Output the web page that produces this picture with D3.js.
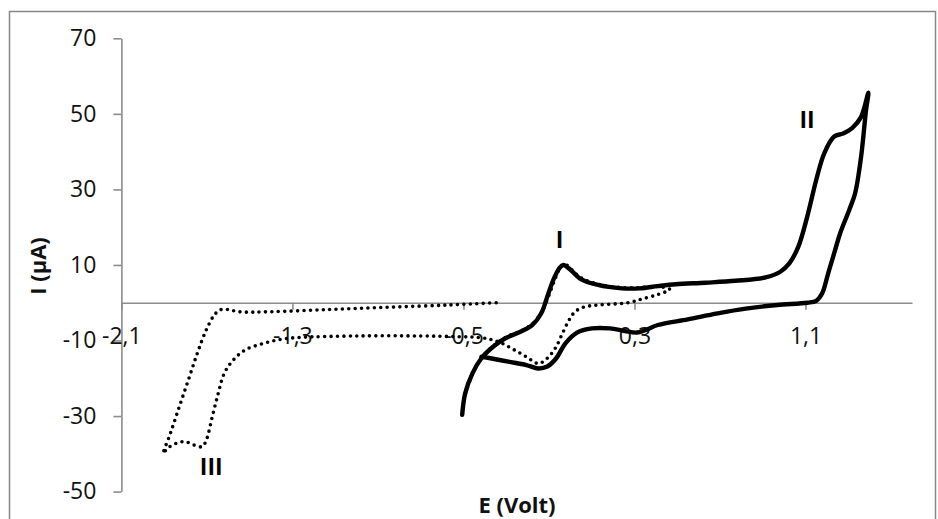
<!DOCTYPE html>
<html>
<head>
<meta charset="utf-8">
<script src="https://cdn.jsdelivr.net/npm/d3@7"></script>
<style>
  html, body { margin: 0; padding: 0; background: #fff; }
  svg { display: block; }
  text { font-family: "Open Sans", "Liberation Sans", sans-serif; }
</style>
</head>
<body>
<svg id="chart" width="938" height="519"></svg>
<script>
// ---- Data (E in V, I in µA) ----
const xTickValues = [-2.1, -1.3, -0.5, 0.3, 1.1];
const xTickLabels = ["-2,1", "-1,3", "-0,5", "0,3", "1,1"];
const yTickValues = [-50, -30, -10, 10, 30, 50, 70];
const yTickLabels = ["-50", "-30", "-10", "10", "30", "50", "70"];

// Solid CV (anodic scan, -0.5 V -> 1.39 V -> back)
const solidE = [-0.506, -0.492, -0.458, -0.416, -0.36, -0.304, -0.234, -0.178, -0.136, -0.108, -0.08, -0.052, -0.033, 0.003, 0.045, 0.129, 0.241, 0.325, 0.409, 0.493, 0.633, 0.773, 0.913, 0.982, 1.024, 1.066, 1.108, 1.15, 1.187, 1.234, 1.276, 1.318, 1.36, 1.394,
                1.383, 1.36, 1.332, 1.304, 1.262, 1.234, 1.206, 1.178, 1.15, 1.108, 0.968, 0.829, 0.689, 0.549, 0.409, 0.353, 0.311, 0.255, 0.185, 0.101, 0.031, -0.024, -0.066, -0.108, -0.15, -0.206, -0.29, -0.374, -0.416];
const solidI = [-29.7, -24.0, -18.7, -14.7, -11.6, -9.4, -7.7, -5.9, -2.8, 1.6, 6.0, 9.1, 10.0, 8.6, 6.4, 4.7, 3.8, 3.8, 4.4, 4.9, 5.3, 5.8, 6.7, 8.2, 10.4, 14.8, 22.8, 32.5, 39.5, 44.0, 44.8, 46.2, 49.2, 55.6,
                51.0, 38.7, 29.0, 24.5, 18.4, 13.1, 7.8, 2.5, 0.5, 0.0, -0.6, -1.5, -2.8, -4.4, -5.9, -7.2, -7.9, -7.5, -6.8, -6.8, -7.9, -10.8, -14.7, -16.9, -17.4, -16.5, -15.6, -14.7, -14.3];

// Dotted CV (scan to -1.9 V)
const dottedE = [-0.49, -0.455, -0.41, -0.35, -0.29, -0.22, -0.17, -0.13, -0.1, -0.07, -0.045, -0.025, 0.005, 0.05, 0.13, 0.24, 0.33, 0.41, 0.465,
                 0.41, 0.33, 0.27, 0.13, 0.06, 0.02, -0.01, -0.04, -0.07, -0.11, -0.15, -0.206, -0.262, -0.318, -0.374, -0.43, -0.514, -0.71, -0.99, -1.27, -1.353, -1.437, -1.521, -1.577, -1.619, -1.647, -1.675, -1.703, -1.722, -1.759, -1.801, -1.843, -1.885, -1.904,
                 -1.871, -1.829, -1.787, -1.745, -1.703, -1.666, -1.638, -1.605, -1.549, -1.409, -1.129, -0.85, -0.57, -0.346];
const dottedI = [-24.0, -18.5, -14.2, -11.0, -8.8, -7.2, -5.2, -2.0, 2.0, 6.5, 9.5, 10.2, 8.8, 6.6, 4.9, 4.0, 4.0, 4.3, 3.5,
                 2.2, 0.9, 0.0, -0.6, -1.2, -2.5, -5.0, -8.5, -12.0, -14.8, -16.1, -14.3, -12.5, -10.8, -9.7, -9.2, -9.0, -8.8, -8.8, -9.2, -9.7, -10.8, -12.5, -15.2, -18.7, -24.0, -30.2, -36.4, -38.1, -37.7, -36.8, -37.2, -38.6, -39.9,
                 -34.6, -27.5, -20.5, -13.4, -7.2, -3.3, -1.9, -1.8, -2.4, -2.4, -1.8, -1.2, -0.6, 0.0];

const peakLabels = ["I", "II", "III"];
const peakLabelE = [-0.05, 1.107, -1.68];
const peakLabelI = [14.5, 46.3, -45.6];

// ---- Layout ----
const svg = d3.select("#chart");
const x = d3.scaleLinear().domain([-2.1, 1.598]).range([121.4, 912]);
const y = d3.scaleLinear().domain([-50, 70]).range([491.6, 38.3]);

// chart border
svg.append("rect")
  .attr("x", 9.5).attr("y", 11.5).attr("width", 926).attr("height", 530)
  .attr("fill", "#fff").attr("stroke", "#878787").attr("stroke-width", 1.5);

// Y axis
const yAxis = svg.append("g")
  .attr("transform", `translate(${x(-2.1)},0)`)
  .call(d3.axisLeft(y).tickValues(yTickValues).tickSize(8).tickSizeOuter(0).tickPadding(17)
        .tickFormat((d, i) => yTickLabels[i]));
// X axis at I = 0
const xAxis = svg.append("g")
  .attr("transform", `translate(0,${y(0)})`)
  .call(d3.axisBottom(x).tickValues(xTickValues).tickSize(7).tickSizeOuter(0).tickPadding(18)
        .tickFormat((d, i) => xTickLabels[i]));

[yAxis, xAxis].forEach(g => {
  g.select(".domain").attr("stroke", "#8c8c8c").attr("stroke-width", 1.6);
  g.selectAll(".tick line").attr("stroke", "#8c8c8c").attr("stroke-width", 1.6);
  g.selectAll(".tick text").attr("fill", "#111").style("font-size", "23px")
    .style("font-family", "'Open Sans', sans-serif");
});

// curves
const line = d3.line().x(d => x(d[0])).y(d => y(d[1])).curve(d3.curveCatmullRom.alpha(0.5));
const solidPts = solidE.map((e, i) => [e, solidI[i]]);
const dottedPts = dottedE.map((e, i) => [e, dottedI[i]]);

svg.append("path").attr("d", line(dottedPts))
  .attr("fill", "none").attr("stroke", "#000").attr("stroke-width", 3.6)
  .attr("stroke-linecap", "round").attr("stroke-dasharray", "0 6.4");

svg.append("path").attr("d", line(solidPts))
  .attr("fill", "none").attr("stroke", "#000").attr("stroke-width", 4.4)
  .attr("stroke-linejoin", "round").attr("stroke-linecap", "round");

// peak labels
svg.selectAll("text.peak").data(peakLabels).enter().append("text")
  .attr("class", "peak")
  .attr("x", (d, i) => x(peakLabelE[i]))
  .attr("y", (d, i) => y(peakLabelI[i]))
  .attr("text-anchor", "middle")
  .style("font-size", "23px").style("font-weight", "bold").attr("fill", "#000")
  .text(d => d);

// axis titles
svg.append("text")
  .attr("x", 517).attr("y", 513)
  .attr("text-anchor", "middle")
  .style("font-size", "22px").style("font-weight", "bold").attr("fill", "#111")
  .text("E (Volt)");

svg.append("text")
  .attr("transform", `translate(46,266) rotate(-90)`)
  .attr("text-anchor", "middle")
  .style("font-size", "22px").style("font-weight", "bold").attr("fill", "#111")
  .text("I (µA)");
</script>
</body>
</html>
